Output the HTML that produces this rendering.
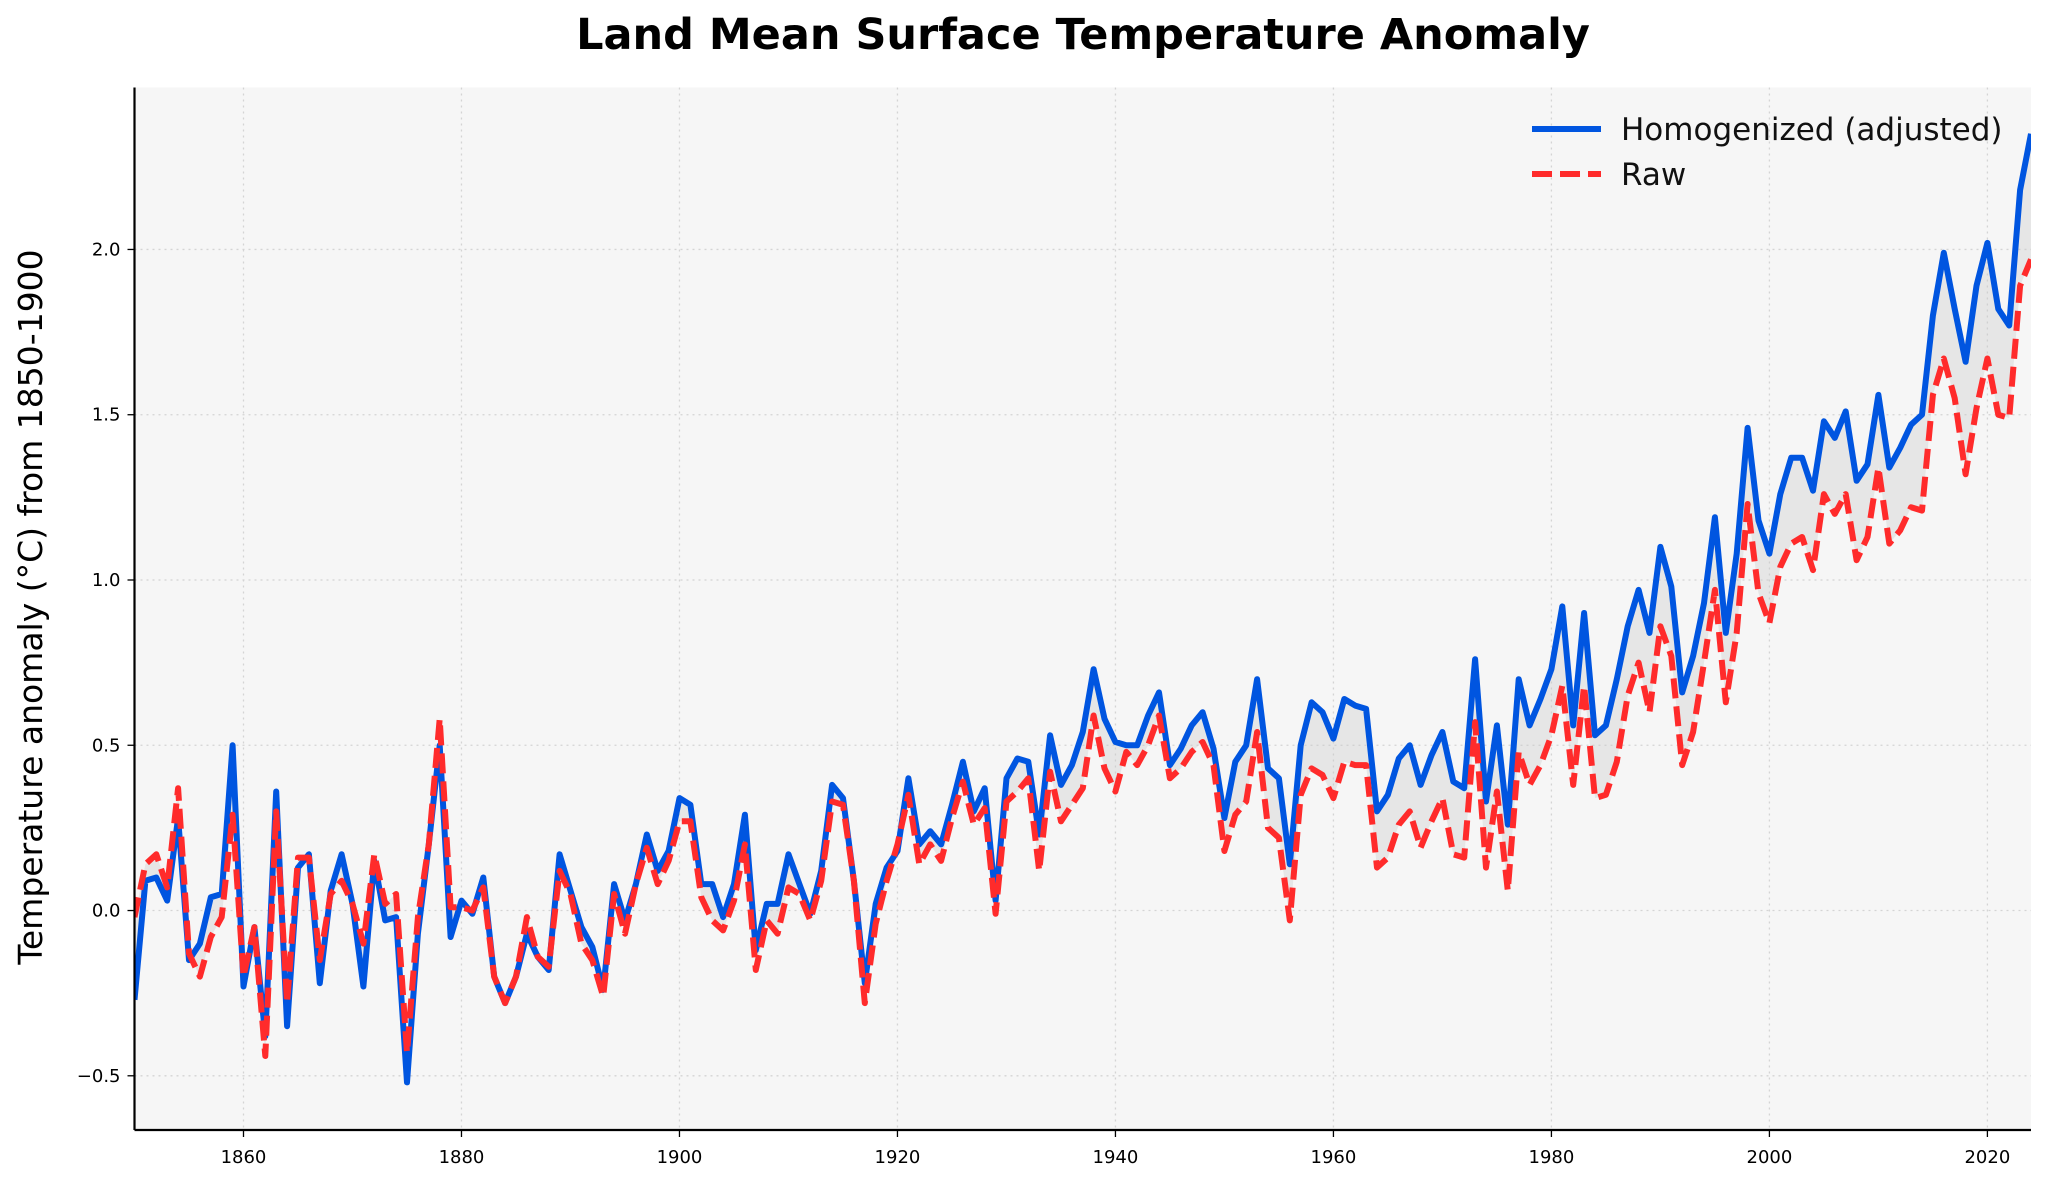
<!DOCTYPE html>
<html><head><meta charset="utf-8"><style>
html,body{margin:0;padding:0;background:#fff;}
svg{display:block;font-family:"DejaVu Sans","Liberation Sans",sans-serif;}
</style></head><body>
<svg id="chart" width="2048" height="1189" viewBox="0 0 2048 1189" xmlns="http://www.w3.org/2000/svg">
<rect x="0" y="0" width="2048" height="1189" fill="#ffffff"/>
<text x="1083" y="49" text-anchor="middle" font-size="43" font-weight="bold" fill="#000">Land Mean Surface Temperature Anomaly</text>
<rect x="134.5" y="87.5" width="1896.5" height="1042.5" fill="#f6f6f6"/>
<g id="grid"></g>
<g id="fill"></g>
<g id="lines"></g>
<g id="axes"></g>
<text transform="translate(42,607) rotate(-90)" text-anchor="middle" font-size="33" fill="#000">Temperature anomaly (°C) from 1850-1900</text>
<g>
<line x1="1532" y1="129" x2="1601" y2="129" stroke="#0055e0" stroke-width="6"/>
<text x="1621" y="140" font-size="31" fill="#111">Homogenized (adjusted)</text>
<line x1="1532" y1="174" x2="1601" y2="174" stroke="#ff2b2b" stroke-width="6" stroke-dasharray="20,8"/>
<text x="1621" y="185" font-size="31" fill="#111">Raw</text>
</g>
</svg>
<script>
const startYear = 1850;
const homogenized = [-0.27,0.09,0.10,0.03,0.28,-0.15,-0.10,0.04,0.05,0.50,
-0.23,-0.05,-0.38,0.36,-0.35,0.13,0.17,-0.22,0.06,0.17,
0.02,-0.23,0.15,-0.03,-0.02,-0.52,-0.07,0.20,0.50,-0.08,
0.03,-0.01,0.10,-0.20,-0.28,-0.20,-0.07,-0.14,-0.18,0.17,
0.06,-0.05,-0.11,-0.24,0.08,-0.03,0.08,0.23,0.12,0.18,
0.34,0.32,0.08,0.08,-0.02,0.08,0.29,-0.12,0.02,0.02,
0.17,0.08,-0.01,0.12,0.38,0.34,0.09,-0.22,0.02,0.13,
0.18,0.40,0.20,0.24,0.20,0.32,0.45,0.30,0.37,0.03,
0.40,0.46,0.45,0.23,0.53,0.38,0.44,0.54,0.73,0.58,
0.51,0.50,0.50,0.59,0.66,0.44,0.49,0.56,0.60,0.49,
0.28,0.45,0.50,0.70,0.43,0.40,0.14,0.50,0.63,0.60,
0.52,0.64,0.62,0.61,0.30,0.35,0.46,0.50,0.38,0.47,
0.54,0.39,0.37,0.76,0.33,0.56,0.26,0.70,0.56,0.64,
0.73,0.92,0.56,0.90,0.53,0.56,0.70,0.86,0.97,0.84,
1.10,0.98,0.66,0.77,0.93,1.19,0.84,1.08,1.46,1.18,
1.08,1.26,1.37,1.37,1.27,1.48,1.43,1.51,1.30,1.35,
1.56,1.34,1.40,1.47,1.50,1.80,1.99,1.82,1.66,1.89,
2.02,1.82,1.77,2.18,2.35];
const raw = [-0.02,0.14,0.17,0.07,0.37,-0.13,-0.20,-0.08,-0.02,0.29,
-0.20,-0.05,-0.44,0.30,-0.28,0.16,0.16,-0.15,0.05,0.09,
0.02,-0.10,0.17,0.02,0.05,-0.43,-0.02,0.20,0.58,0.01,
0.01,0.00,0.07,-0.20,-0.28,-0.20,-0.02,-0.14,-0.17,0.12,
0.05,-0.10,-0.15,-0.26,0.05,-0.07,0.08,0.19,0.08,0.15,
0.27,0.27,0.04,-0.03,-0.06,0.03,0.20,-0.18,-0.03,-0.07,
0.07,0.05,-0.03,0.09,0.33,0.32,0.09,-0.28,-0.04,0.09,
0.20,0.35,0.14,0.20,0.15,0.28,0.39,0.26,0.31,-0.01,
0.33,0.36,0.40,0.12,0.42,0.27,0.32,0.37,0.59,0.43,
0.36,0.48,0.44,0.50,0.59,0.40,0.43,0.48,0.51,0.44,
0.18,0.29,0.33,0.54,0.25,0.22,-0.03,0.35,0.43,0.41,
0.34,0.45,0.44,0.44,0.13,0.16,0.26,0.30,0.19,0.27,
0.34,0.17,0.16,0.57,0.13,0.36,0.06,0.48,0.38,0.44,
0.53,0.68,0.38,0.68,0.34,0.35,0.45,0.65,0.75,0.60,
0.86,0.77,0.44,0.54,0.75,0.97,0.63,0.84,1.23,0.96,
0.87,1.04,1.11,1.13,1.03,1.26,1.20,1.26,1.06,1.13,
1.34,1.11,1.15,1.22,1.21,1.56,1.67,1.55,1.32,1.52,
1.67,1.50,1.49,1.89,1.97];
const xTicks = [1860,1880,1900,1920,1940,1960,1980,2000,2020];
const yTicks = [-0.5,0.0,0.5,1.0,1.5,2.0];
const yTickLabels = ["\u22120.5","0.0","0.5","1.0","1.5","2.0"];

const PL=134.5,PR=2031,PT=87.5,PB=1130;
const xMin=1850,xMax=2024,yMin=-0.664,yMax=2.49;
function xs(v){return PL+(v-xMin)/(xMax-xMin)*(PR-PL);}
function ys(v){return PB-(v-yMin)/(yMax-yMin)*(PB-PT);}
const NS="http://www.w3.org/2000/svg";
function mk(tag,attrs,parent){const e=document.createElementNS(NS,tag);for(const k in attrs)e.setAttribute(k,attrs[k]);parent.appendChild(e);return e;}
const gridG=document.getElementById('grid'),axesG=document.getElementById('axes'),fillG=document.getElementById('fill'),linesG=document.getElementById('lines');

xTicks.forEach(function(t){
  const g=mk('line',{x1:xs(t),x2:xs(t),y1:PT,y2:PB,stroke:'#d4d4d4','stroke-width':1.3,'stroke-dasharray':'2,4'},gridG);
  
  
  const tk=mk('line',{x1:xs(t),x2:xs(t),y1:PB,y2:PB+7,stroke:'#000','stroke-width':1.3},axesG);
  
  
  const lb=mk('text',{x:xs(t),y:PB+33,'text-anchor':'middle','font-size':18,fill:'#000'},axesG);
  lb.textContent=t;
  
  
});
yTicks.forEach(function(t,i){
  const g=mk('line',{x1:PL,x2:PR,y1:ys(t),y2:ys(t),stroke:'#d4d4d4','stroke-width':1.3,'stroke-dasharray':'2,4'},gridG);
  
  
  const tk=mk('line',{x1:PL-7,x2:PL,y1:ys(t),y2:ys(t),stroke:'#000','stroke-width':1.3},axesG);
  
  
  const lb=mk('text',{x:PL-14,y:ys(t)+6,'text-anchor':'end','font-size':18,fill:'#000'},axesG);
  lb.textContent=yTickLabels[i];
  
  
});
const sp1=mk('line',{x1:PL,x2:PL,y1:PT,y2:PB,stroke:'#000','stroke-width':2.2},axesG);


const sp2=mk('line',{x1:PL,x2:PR,y1:PB,y2:PB,stroke:'#000','stroke-width':2.2},axesG);



const n=Math.min(homogenized.length,raw.length);
const upperPts=[],lowerPts=[];
for(let i=0;i<n;i++){upperPts.push(xs(startYear+i).toFixed(1)+','+ys(homogenized[i]).toFixed(1));}
for(let i=n-1;i>=0;i--){lowerPts.push(xs(startYear+i).toFixed(1)+','+ys(raw[i]).toFixed(1));}
const fp=mk('polygon',{points:upperPts.concat(lowerPts).join(' '),fill:'#c8c8c8','fill-opacity':0.35,stroke:'none'},fillG);



const cp=mk('clipPath',{id:'clip'},document.getElementById('chart'));
mk('rect',{x:PL,y:PT,width:PR-PL,height:PB-PT},cp);
linesG.setAttribute('clip-path','url(#clip)');
const hp=homogenized.map(function(v,i){return xs(startYear+i).toFixed(1)+','+ys(v).toFixed(1);}).join(' ');
const hl=mk('polyline',{points:hp,fill:'none',stroke:'#0055e0','stroke-width':6,'stroke-linejoin':'round'},linesG);


const rp=raw.map(function(v,i){return xs(startYear+i).toFixed(1)+','+ys(v).toFixed(1);}).join(' ');
const rl=mk('polyline',{points:rp,fill:'none',stroke:'#ff2b2b','stroke-width':6,'stroke-dasharray':'20,8','stroke-linejoin':'round'},linesG);


</script>
</body></html>
